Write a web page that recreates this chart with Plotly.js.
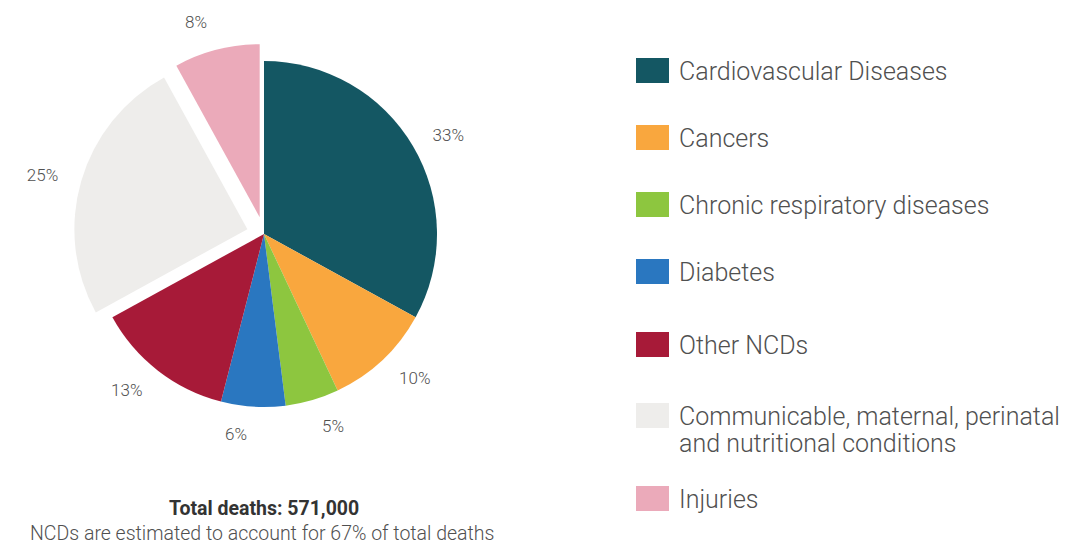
<!DOCTYPE html>
<html>
<head>
<meta charset="utf-8">
<script src="https://cdn.plot.ly/plotly-3.0.1.min.js"></script>
<style>html,body{margin:0;padding:0;background:#fff;}#chart{width:1069px;height:545px;}</style>
</head>
<body>
<div id="chart"></div>
<script>
const categories = [
  "Cardiovascular Diseases",
  "Cancers",
  "Chronic respiratory diseases",
  "Diabetes",
  "Other NCDs",
  "Communicable, maternal, perinatal and nutritional conditions",
  "Injuries"
];
const legendLabels = [
  "Cardiovascular Diseases",
  "Cancers",
  "Chronic respiratory diseases",
  "Diabetes",
  "Other NCDs",
  "Communicable, maternal, perinatal<br>and nutritional conditions",
  "Injuries"
];
const shares = [33, 10, 5, 6, 13, 25, 8];
const pulls = [0, 0, 0, 0, 0, 0.1, 0.1];
const colors = ["#145763", "#F9A73E", "#8DC63F", "#2A77C0", "#A71A38", "#EEEDEB", "#EBAABA"];
const totalTitle = "Total deaths: 571,000";
const note = "NCDs are estimated to account for 67% of total deaths";

const W = 1069, H = 545;
const px = x => x / W;
const py = y => 1 - y / H;

const FONT = "Roboto, 'DejaVu Sans', sans-serif";
const TXT = "#505050";

// pie geometry (layout only)
const cx = 264, cy = 234, r = 173, maxPull = 0.1;
const labelR = 190;
const dom = rad => {
  const half = rad * (1 + maxPull);
  return {x: [px(cx - half), px(cx + half)], y: [py(cy + half), py(cy - half)]};
};

// invisible pie carrying the percentage labels slightly further out
const labelTrace = {
  type: "pie",
  labels: categories,
  values: shares,
  marker: {colors: categories.map(() => "rgba(255,255,255,0)"), line: {width: 0}},
  pull: pulls,
  sort: false,
  direction: "clockwise",
  rotation: 0,
  textposition: "outside",
  texttemplate: "%{value}%",
  outsidetextfont: {family: FONT, size: 17, color: TXT, weight: 300},
  hoverinfo: "skip",
  showlegend: false,
  automargin: false,
  domain: dom(labelR)
};

const trace = {
  type: "pie",
  labels: categories,
  values: shares,
  marker: {colors: colors, line: {width: 0}},
  pull: pulls,
  sort: false,
  direction: "clockwise",
  rotation: 0,
  textinfo: "none",
  hoverinfo: "label+value",
  showlegend: false,
  automargin: false,
  domain: dom(r)
};

const shapes = [];
const annotations = [];
const rowTops = [58, 125, 192, 259, 332, 403, 486];
const lineGap = 27;
categories.forEach((c, i) => {
  const t = rowTops[i];
  shapes.push({type: "rect", xref: "paper", yref: "paper",
    x0: px(636), x1: px(669), y0: py(t + 25), y1: py(t),
    fillcolor: colors[i], line: {width: 0}});
  legendLabels[i].split("<br>").forEach((line, k) => {
    annotations.push({xref: "paper", yref: "paper", x: px(677),
      y: py(t + 13.5 + k * lineGap), xanchor: "left", yanchor: "middle",
      align: "left", showarrow: false, text: line,
      font: {family: FONT, size: 25, color: TXT, weight: 300}});
  });
});
annotations.push({xref: "paper", yref: "paper", x: px(264), y: py(508), xanchor: "center", yanchor: "middle",
  showarrow: false, text: "<b>" + totalTitle + "</b>", font: {family: FONT, size: 19.5, color: "#333"}});
annotations.push({xref: "paper", yref: "paper", x: px(262), y: py(533), xanchor: "center", yanchor: "middle",
  showarrow: false, text: note, font: {family: FONT, size: 19.5, color: TXT, weight: 300}});

const layout = {
  width: W, height: H,
  margin: {l: 0, r: 0, t: 0, b: 0},
  paper_bgcolor: "#fff",
  plot_bgcolor: "#fff",
  showlegend: false,
  shapes: shapes,
  annotations: annotations
};

Plotly.newPlot("chart", [labelTrace, trace], layout, {displayModeBar: false, staticPlot: true});
</script>
</body>
</html>
